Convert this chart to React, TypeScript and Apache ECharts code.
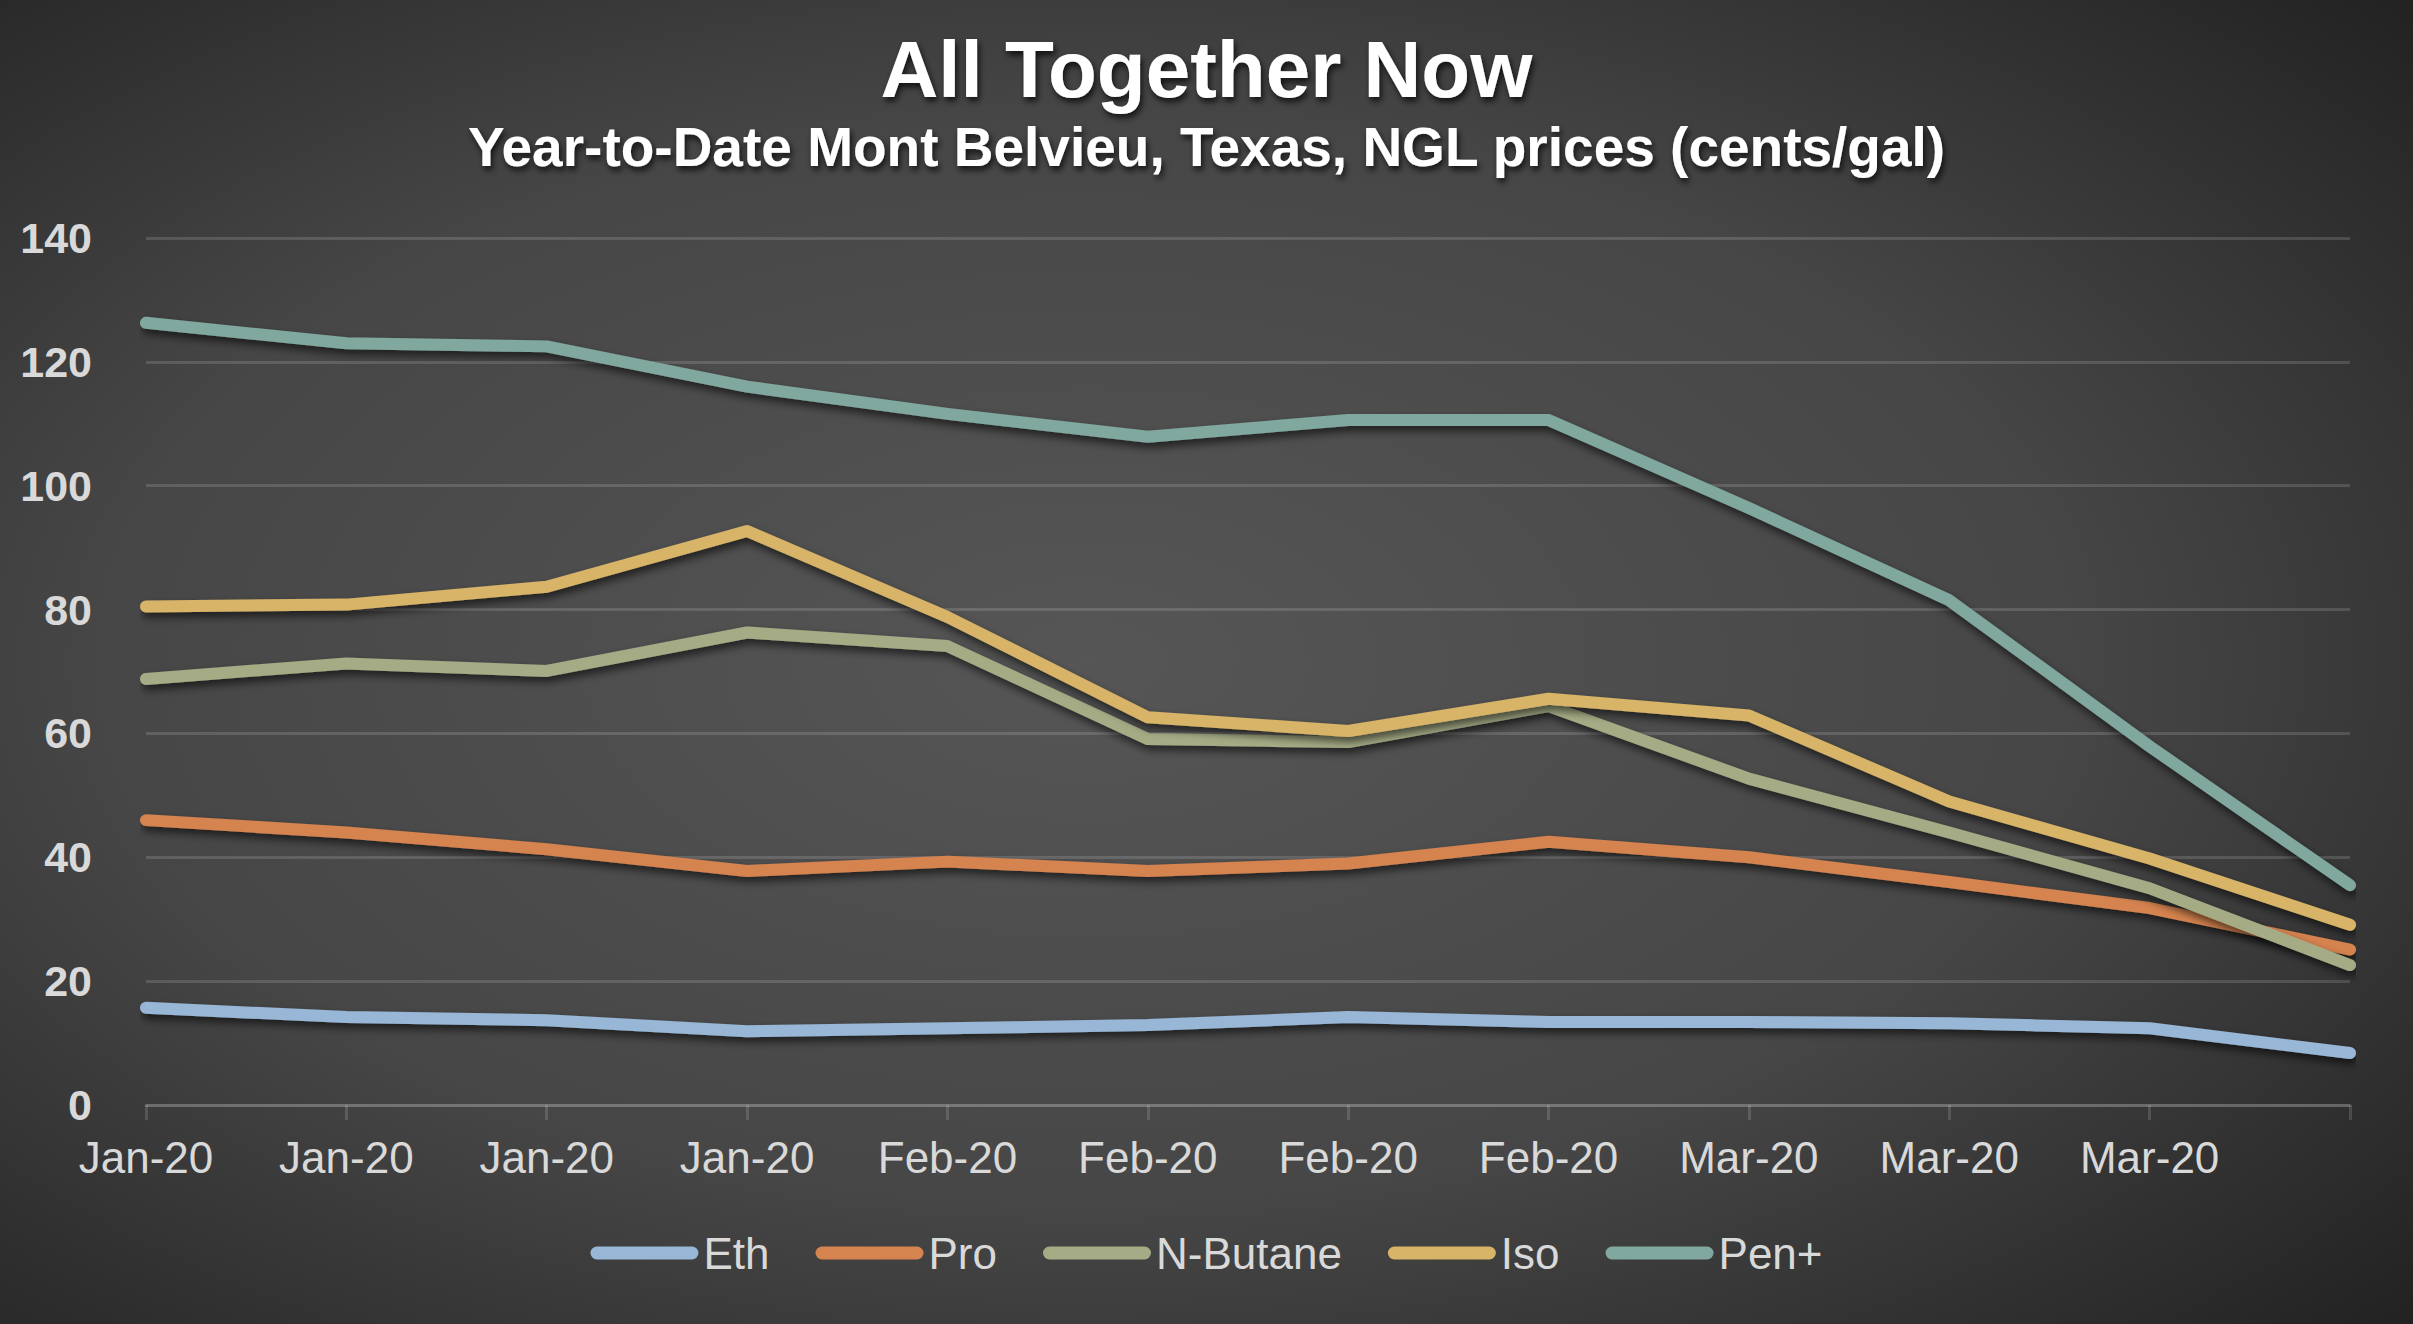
import React, { useEffect, useRef } from "react";
import * as echarts from "echarts";

const categories = [
  "Jan-20", "Jan-20", "Jan-20", "Jan-20",
  "Feb-20", "Feb-20", "Feb-20", "Feb-20",
  "Mar-20", "Mar-20", "Mar-20", "",
];

const eth = [15.7, 14.2, 13.7, 11.9, 12.4, 12.9, 14.2, 13.4, 13.4, 13.2, 12.4, 8.4];
const pro = [46, 44, 41.3, 37.8, 39.3, 37.8, 39, 42.5, 40, 36, 31.8, 25.1];
const nButane = [68.8, 71.3, 70.1, 76.3, 74.1, 59.1, 58.6, 64.4, 52.7, 44, 35, 22.6];
const iso = [80.5, 80.8, 83.7, 92.7, 78.8, 62.6, 60.4, 65.6, 62.9, 49, 39.8, 29.1];
const penPlus = [126.3, 123, 122.5, 116, 111.6, 107.9, 110.6, 110.6, 96.4, 81.5, 57.9, 35.5];

const seriesNames = ["Eth", "Pro", "N-Butane", "Iso", "Pen+"];
const seriesColors = ["#98b7d6", "#d5834f", "#a5ab85", "#d7b467", "#80a89f"];
const seriesData = [eth, pro, nButane, iso, penPlus];

const yTicks = { min: 0, max: 140, interval: 20 };

const FONT = "'Liberation Sans', Arial, sans-serif";
const TEXT_COLOR = "#d9d9d9";
const GRID_COLOR = "rgba(255,255,255,0.14)";

export default function App() {
  const ref = useRef<HTMLDivElement>(null);

  useEffect(() => {
    if (!ref.current) return;
    const chart = echarts.init(ref.current, null, { renderer: "svg" });
    const capsule = "path://M6.5,0 H101.5 A6.5,6.5 0 0 1 101.5,13 H6.5 A6.5,6.5 0 0 1 6.5,0 Z";
    chart.setOption({
      animation: false,
      backgroundColor: {
        type: "radial",
        x: 0.45,
        y: 0.5,
        r: 0.75,
        colorStops: [
          { offset: 0, color: "#565656" },
          { offset: 0.55, color: "#464646" },
          { offset: 1, color: "#212121" },
        ],
      },
      title: [
        {
          text: "All Together Now",
          left: "center",
          top: 24,
          textStyle: {
            fontFamily: FONT,
            fontSize: 80,
            fontWeight: "bold",
            color: "#ffffff",
            textShadowColor: "rgba(0,0,0,0.75)",
            textShadowBlur: 6,
            textShadowOffsetX: 2,
            textShadowOffsetY: 4,
          },
        },
        {
          text: "Year-to-Date Mont Belvieu, Texas, NGL prices (cents/gal)",
          left: "center",
          top: 114,
          textStyle: {
            fontFamily: FONT,
            fontSize: 55,
            fontWeight: "bold",
            color: "#ffffff",
            textShadowColor: "rgba(0,0,0,0.75)",
            textShadowBlur: 6,
            textShadowOffsetX: 2,
            textShadowOffsetY: 4,
          },
        },
      ],
      legend: {
        bottom: 44,
        left: "center",
        itemWidth: 108,
        itemHeight: 13,
        itemGap: 46,
        icon: capsule,
        textStyle: { fontFamily: FONT, fontSize: 44, color: TEXT_COLOR },
        data: seriesNames.map((n) => ({ name: n, icon: capsule })),
      },
      grid: { left: 146, right: 63, top: 238, bottom: 219, containLabel: false },
      xAxis: {
        type: "category",
        data: categories,
        boundaryGap: false,
        axisLine: { show: true, lineStyle: { color: GRID_COLOR, width: 3 } },
        axisTick: { show: true, length: 15, lineStyle: { color: GRID_COLOR, width: 3 } },
        axisLabel: {
          fontFamily: FONT,
          fontSize: 44,
          color: TEXT_COLOR,
          margin: 30,
          interval: 0,
        },
        splitLine: { show: false },
      },
      yAxis: {
        type: "value",
        min: yTicks.min,
        max: yTicks.max,
        interval: yTicks.interval,
        axisLine: { show: false },
        axisTick: { show: false },
        axisLabel: {
          fontFamily: FONT,
          fontSize: 43,
          fontWeight: "bold",
          color: TEXT_COLOR,
          margin: 54,
        },
        splitLine: { show: true, lineStyle: { color: GRID_COLOR, width: 3 } },
      },
      series: seriesNames.map((name, i) => ({
        name,
        type: "line",
        data: seriesData[i],
        showSymbol: false,
        symbol: "none",
        color: seriesColors[i],
        lineStyle: {
          width: 12,
          color: seriesColors[i],
          cap: "round",
          join: "round",
          shadowColor: "rgba(0,0,0,0.6)",
          shadowBlur: 8,
          shadowOffsetX: 2,
          shadowOffsetY: 5,
        },
        emphasis: { disabled: true },
      })),
    });
    return () => chart.dispose();
  }, []);

  return (
    <div
      ref={ref}
      style={{ position: "absolute", left: 0, top: 0, width: 2413, height: 1324 }}
    />
  );
}
